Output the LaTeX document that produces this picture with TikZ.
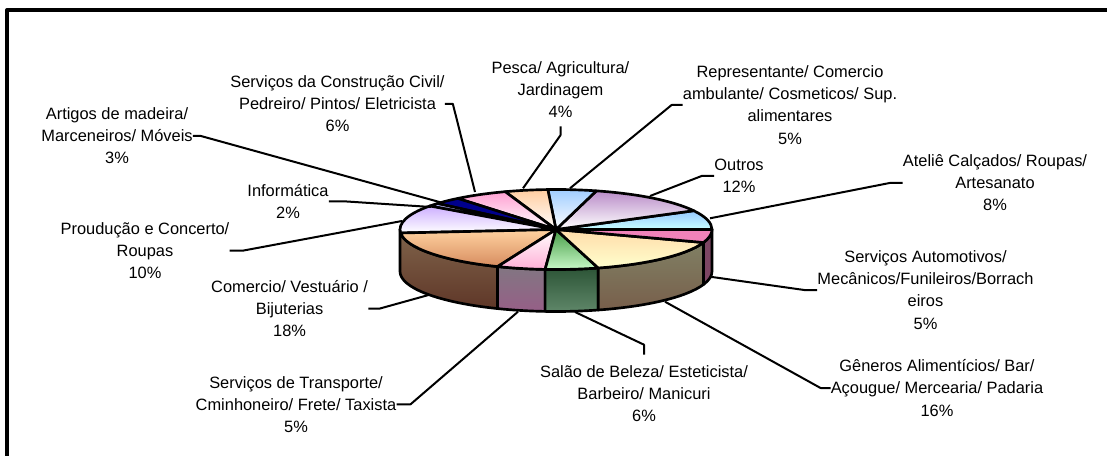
\documentclass[tikz,border=0pt]{standalone}
\usepackage{fontspec}
\setmainfont{Liberation Sans}
% cores das fatias (borda / centro)
\definecolor{atelieTop}{RGB}{150,200,255}
\definecolor{atelieLow}{RGB}{200,255,255}
\definecolor{outrosTop}{RGB}{185,140,200}
\definecolor{reprTop}{RGB}{160,205,255}
\definecolor{pescaTop}{RGB}{255,205,160}
\definecolor{construcaoTop}{RGB}{255,160,210}
\definecolor{madeiraTop}{RGB}{0,0,140}
\definecolor{informaticaTop}{RGB}{190,190,255}
\definecolor{producaoTop}{RGB}{205,175,255}
\definecolor{comercioTop}{RGB}{255,210,160}
\definecolor{comercioLow}{RGB}{215,140,95}
\definecolor{transporteLow}{RGB}{255,175,215}
\definecolor{salaoTop}{RGB}{70,155,70}
\definecolor{salaoLow}{RGB}{200,250,200}
\definecolor{generosTop}{RGB}{255,220,170}
\definecolor{generosLow}{RGB}{255,255,205}
\definecolor{automotivosTop}{RGB}{240,130,185}
\definecolor{comercioSide}{RGB}{128,100,75}
\definecolor{comercioDark}{RGB}{95,55,40}
\definecolor{transporteSide}{RGB}{130,118,130}
\definecolor{transporteDark}{RGB}{150,95,135}
\definecolor{salaoSide}{RGB}{95,135,105}
\definecolor{salaoDark}{RGB}{45,85,55}
\definecolor{generosSide}{RGB}{128,128,100}
\definecolor{generosDark}{RGB}{120,95,75}
\definecolor{automotivosSide}{RGB}{125,70,100}

\begin{document}
\begin{tikzpicture}[x=0.75pt, y=-0.75pt, line join=round,
    pieLine/.style={line width=2pt, draw=black},
    leaderLine/.style={line width=1.5pt},
    pieText/.style={align=center, inner sep=0pt, font=\fontsize{12.3}{16.6}\selectfont}]
    % moldura (so o canto superior esquerdo aparece)
    \useasboundingbox (0,0) rectangle (1107,456);
    \clip (0,0) rectangle (1107,456);
    \fill[white] (0,0) rectangle (1107,456);
    \draw[line width=3pt] (7,10.3) rectangle (1130,480);

    \begin{scope}[shift={(556,229.5)}]
        % lateral do disco
        \foreach \a/\b/\c/\d in {180/248/comercioSide/comercioDark, 248/266/transporteSide/transporteDark,
                                 266/285.7/salaoDark/salaoSide, 285.7/341/generosSide/generosDark,
                                 341/360/automotivosSide/automotivosSide}
            \draw[pieLine, top color=\c, bottom color=\d] (-\a:156 and 40) arc[start angle=-\a, end angle=-\b, x radius=156, y radius=40]
                -- ++(0,42) arc[start angle=-\b, end angle=-\a, x radius=156, y radius=40] -- cycle;
        % fatias de cima
        \foreach \a/\b/\c/\d in {0/28/atelieTop/atelieLow, 28/75/outrosTop/white, 75/93/reprTop/white,
                                 93/109/pescaTop/white, 109/129/construcaoTop/white, 129/139.5/madeiraTop/madeiraTop,
                                 139.5/144/informaticaTop/informaticaTop, 144/185/producaoTop/white,
                                 185/248/comercioTop/comercioLow, 248/266/white/transporteLow,
                                 266/285.7/salaoTop/salaoLow, 285.7/341/generosTop/generosLow,
                                 341/360/automotivosTop/automotivosTop}
            \draw[pieLine, top color=\c, bottom color=\d] (0,0) -- (-\a:156 and 40) arc[start angle=-\a, end angle=-\b, x radius=156, y radius=40] -- cycle;
    \end{scope}

    % pontos das linhas na pizza
    \coordinate (construcaoPt) at (475,192);
    \coordinate (madeiraPt) at (443,203);
    \coordinate (informaticaPt) at (431,207);
    \coordinate (producaoPt) at (402,221);
    \coordinate (comercioPt) at (428.6,295);
    \coordinate (transportePt) at (518,311.7);
    \coordinate (salaoPt) at (575,312);
    \coordinate (generosPt) at (665,301.7);
    \coordinate (automotivosPt) at (710,276.7);
    \coordinate (ateliePt) at (710,218.3);
    \coordinate (outrosPt) at (650,196);
    \coordinate (representantePt) at (570,188.3);
    \coordinate (pescaPt) at (523,188.3);

    % rotulos
    \node[pieText] (construcao) at (337.5,103.9) {Serviços da Construção Civil/\\Pedreiro/ Pintos/ Eletricista\\6\%};
    \node[pieText] (madeira) at (117,136) {Artigos de madeira/\\Marceneiros/ Móveis\\3\%};
    \node[pieText] (informatica) at (288,201.3) {Informática\\2\%};
    \node[pieText] (producao) at (145,250.7) {Proudução e Concerto/\\Roupas\\10\%};
    \node[pieText] (comercio) at (289.6,308.7) {Comercio/ Vestuário /\\Bijuterias\\18\%};
    \node[pieText] (transporte) at (296,404.3) {Serviços de Transporte/\\Cminhoneiro/ Frete/ Taxista\\5\%};
    \node[pieText] (salao) at (644,393.8) {Salão de Beleza/ Esteticista/\\Barbeiro/ Manicuri\\6\%};
    \node[pieText] (generos) at (937,388) {Gêneros Alimentícios/ Bar/\\Açougue/ Mercearia/ Padaria\\16\%};
    \node[pieText] (automotivos) at (925.5,290) {Serviços Automotivos/\\Mecânicos/Funileiros/Borrach\\eiros\\5\%};
    \node[pieText] (atelie) at (995,182.8) {Ateliê Calçados/ Roupas/\\Artesanato\\8\%};
    \node[pieText] (outros) at (739,175.8) {Outros\\12\%};
    \node[pieText] (representante) at (790,105) {Representante/ Comercio\\ambulante/ Cosmeticos/ Sup.\\alimentares\\5\%};
    \node[pieText] (pesca) at (560.5,89.5) {Pesca/ Agricultura/\\Jardinagem\\4\%};

    % linhas de chamada
    \draw[leaderLine] (construcao.east) -- ++(8,0) -- (construcaoPt);
    \draw[leaderLine] (madeira.east) -- ++(8,0) -- (madeiraPt);
    \draw[leaderLine] (informatica.east) -- ++(15,0) -- (informaticaPt);
    \draw[leaderLine] (producao.east) -- ++(13,0) -- (producaoPt);
    \draw[leaderLine] (comercio.east) -- ++(11,0) -- (comercioPt);
    \draw[leaderLine] (transporte.east) -- ++(14,0) -- (transportePt);
    \draw[leaderLine] ([yshift=8pt]salao.north) -- ([yshift=15.5pt]salao.north) -- (salaoPt);
    \draw[leaderLine] (generos.west) -- ++(-10,0) -- (generosPt);
    \draw[leaderLine] (automotivos.west) -- ++(-13,0) -- (automotivosPt);
    \draw[leaderLine] (atelie.west) -- ++(-12,0) -- (ateliePt);
    \draw[leaderLine] (outros.west) -- ++(-12,0) -- (outrosPt);
    \draw[leaderLine] (representante.west) -- ++(-11,0) -- (representantePt);
    \draw[leaderLine] ([yshift=-6.3pt]pesca.south) -- ([yshift=-13pt]pesca.south) -- (pescaPt);
\end{tikzpicture}
\end{document}
